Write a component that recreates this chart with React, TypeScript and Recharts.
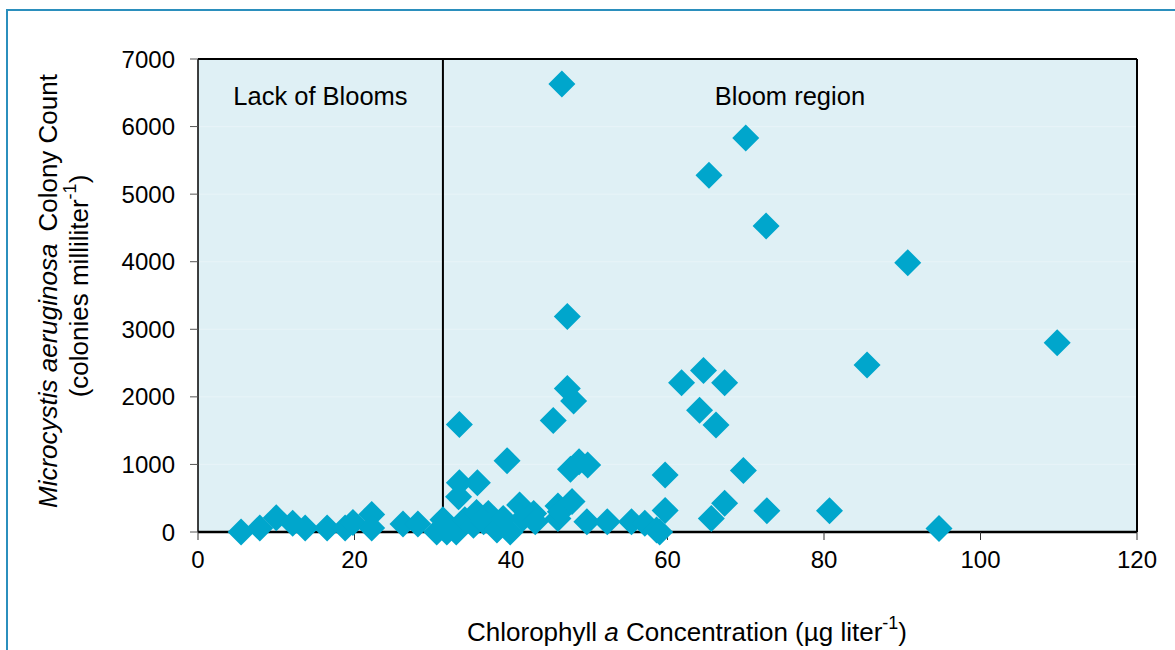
import { CartesianGrid, ReferenceArea, ReferenceLine, Scatter, ScatterChart, XAxis, YAxis } from "recharts";

// chlorophyll a (µg/L) vs Microcystis colony count (colonies/mL)
const chlorophyll = [
  5.5, 7.9, 10, 12.1, 13.7, 16.5, 18.8, 19.8, 22.2, 22.2, 26.2, 28.1, 30.5, 31.3,
  31.8, 33.0, 33.4, 33.4, 35.7, 33.3, 34.1, 35.2, 35.6, 37.1, 36.5, 37.7, 38.2, 39.0,
  39.5, 39.9, 41.1, 41.5, 42.9, 43.1, 45.4, 46.0, 46.0, 46.3, 46.5, 47.2, 47.2, 47.8,
  47.6, 48.0, 48.7, 49.8, 49.7, 52.3, 55.4, 57.1, 58.6, 59.0, 59.7, 59.7, 61.8, 64.6,
  64.1, 65.3, 65.6, 66.2, 67.3, 67.3, 69.7, 70.0, 72.6, 72.7, 80.7, 85.5, 90.7, 94.7,
  109.8,
];
const colonies = [
  0, 60, 210, 130, 60, 60, 60, 140, 260, 60, 120, 120, 0, 180,
  0, 0, 1590, 730, 730, 520, 180, 100, 290, 275, 150, 150, 30, 200,
  1055, 0, 400, 200, 275, 150, 1650, 385, 200, 300, 6630, 3190, 2125, 450,
  930, 1940, 1040, 990, 150, 150, 150, 130, 30, 0, 845, 320, 2210, 2390,
  1800, 5280, 200, 1585, 2210, 425, 910, 5830, 4530, 315, 315, 2470, 3985, 50,
  2800,
];

const xTicks = [0, 20, 40, 60, 80, 100, 120];
const yTicks = [0, 1000, 2000, 3000, 4000, 5000, 6000, 7000];
const bloomThreshold = 31.3;

const data = chlorophyll.map((x, i) => ({ x, y: colonies[i] }));

const FONT = '"Liberation Sans", Arial, Helvetica, sans-serif';
const MARKER = "#00a6cc";

function Diamond(props: any) {
  const { cx, cy } = props;
  const r = 13.5;
  return <polygon points={`${cx},${cy - r} ${cx + r},${cy} ${cx},${cy + r} ${cx - r},${cy}`} fill={MARKER} />;
}

function XTitle() {
  return (
    <text x={687} y={641} textAnchor="middle" fontSize={26} fontFamily={FONT} fill="#000">
      Chlorophyll <tspan fontStyle="italic">a</tspan> Concentration (µg liter
      <tspan fontSize={18} dy={-12}>-1</tspan>
      <tspan dy={12}>)</tspan>
    </text>
  );
}

function YTitle() {
  return (
    <g fontSize={26} fontFamily={FONT} fill="#000">
      <text x={57} y={291} textAnchor="middle" transform="rotate(-90, 57, 291)">
        <tspan fontStyle="italic">Microcystis aeruginosa</tspan>
        <tspan dx={12}>Colony Count</tspan>
      </text>
      <text x={88} y={286} textAnchor="middle" transform="rotate(-90, 88, 286)">
        (colonies milliliter
        <tspan fontSize={18} dy={-12}>-1</tspan>
        <tspan dy={12}>)</tspan>
      </text>
    </g>
  );
}

export default function App() {
  return (
    <div style={{ position: "absolute", left: 0, top: 0, width: 1175, height: 650, background: "#fff", overflow: "hidden" }}>
      <div
        style={{
          position: "absolute",
          left: 6,
          top: 9,
          width: 1175,
          height: 660,
          borderTop: "2px solid #2b8fbd",
          borderLeft: "2px solid #2b8fbd",
        }}
      />
      <ScatterChart width={1175} height={650} margin={{ top: 59, right: 38, bottom: 0, left: 0 }} style={{ position: "absolute", left: 0, top: 0, fontFamily: FONT }}>
        <CartesianGrid fill="#dff0f5" stroke="#e8f4f8" vertical={false} />
        <XAxis
          type="number"
          dataKey="x"
          domain={[0, 120]}
          ticks={xTicks}
          height={118}
          tickSize={8}
          tickMargin={11}
          axisLine={{ stroke: "#000", strokeWidth: 2.5 }}
          tickLine={{ stroke: "#333" }}
          tick={{ fill: "#000", fontSize: 24 }}
          label={{ content: () => <XTitle /> }}
        />
        <YAxis
          type="number"
          dataKey="y"
          domain={[0, 7000]}
          ticks={yTicks}
          width={198}
          tickSize={8}
          tickMargin={15}
          axisLine={{ stroke: "#000", strokeWidth: 1.5 }}
          tickLine={{ stroke: "#555" }}
          tick={{ fill: "#000", fontSize: 24 }}
          label={{ content: () => <YTitle /> }}
        />
        <ReferenceArea
          x1={0}
          x2={bloomThreshold}
          fill="none"
          fillOpacity={0}
          label={{ value: "Lack of Blooms", position: "insideTop", offset: 28, fontSize: 25.5, fill: "#000" }}
        />
        <ReferenceArea
          x1={bloomThreshold}
          x2={120}
          fill="none"
          fillOpacity={0}
          label={{ value: "Bloom region", position: "insideTop", offset: 28, fontSize: 25.5, fill: "#000" }}
        />
        <ReferenceLine y={7000} stroke="#000" strokeWidth={2} />
        <ReferenceLine x={120} stroke="#000" strokeWidth={2} />
        <ReferenceLine x={bloomThreshold} stroke="#000" strokeWidth={2} />
        <Scatter data={data} shape={<Diamond />} isAnimationActive={false} />
      </ScatterChart>
    </div>
  );
}
